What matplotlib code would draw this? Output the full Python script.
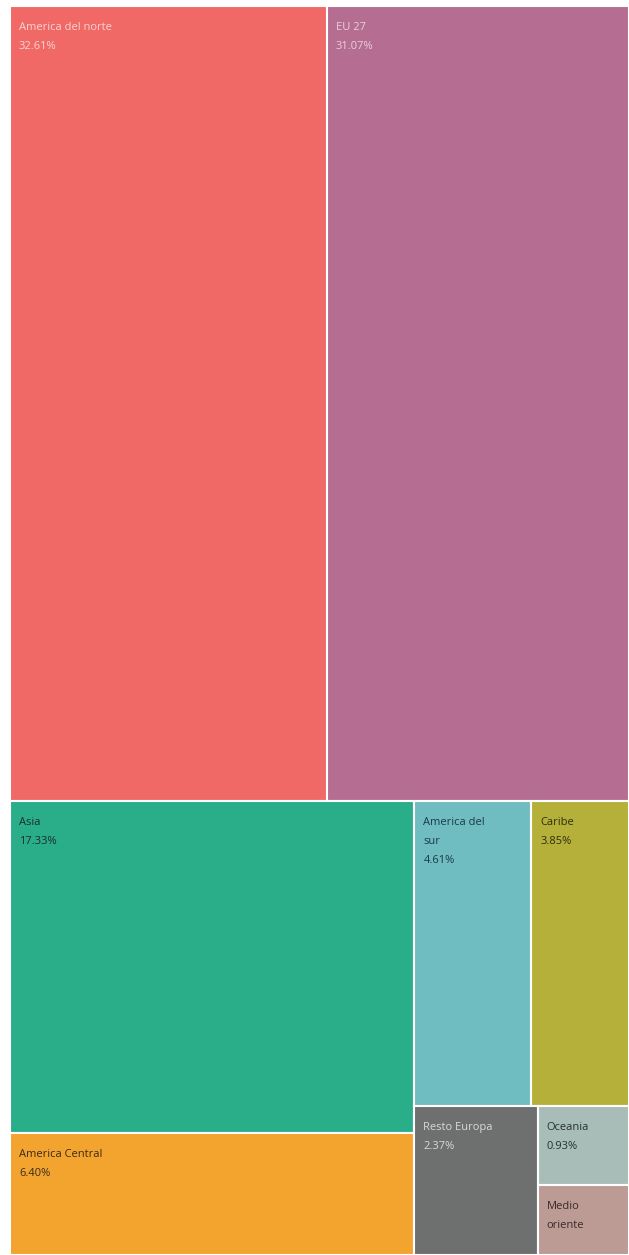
import matplotlib.pyplot as plt
from matplotlib.patches import Rectangle

# regiones y porcentajes
regiones = ["America del norte", "EU 27", "Asia", "America Central",
            "America del\nsur", "Caribe", "Resto Europa", "Oceania", "Medio\noriente"]
valores = [32.61, 31.07, 17.33, 6.40, 4.61, 3.85, 2.37, 0.93, 0.83]
etiquetas = ["32.61%", "31.07%", "17.33%", "6.40%", "4.61%", "3.85%", "2.37%", "0.93%", ""]
colores = ["#F06966", "#B56D91", "#2AAE8A", "#F3A42E", "#6FBCC1",
           "#B5B03A", "#6E6F6F", "#A9BDB8", "#BC9B95"]
color_texto = ["#F9D4D2", "#E9CFDC", "#1E2B2A", "#3A2A1A", "#1E3A44",
               "#2E2E10", "#D9D9D9", "#253030", "#3A2A28"]

# estructura del treemap: (orientacion, hijos); hoja = indice
arbol = ("v", [("h", [0, 1]),
               ("h", [("v", [2, 3]),
                      ("v", [("h", [4, 5]),
                             ("h", [6, ("v", [7, 8])])])])])


def total(nodo):
    if isinstance(nodo, int):
        return valores[nodo]
    return sum(total(h) for h in nodo[1])


def dividir(nodo, x, y, w, h, out):
    # y crece hacia abajo
    if isinstance(nodo, int):
        out[nodo] = (x, y, w, h)
        return
    orient, hijos = nodo
    t = total(nodo)
    pos = 0
    for hijo in hijos:
        f = total(hijo) / t
        if orient == "h":
            dividir(hijo, x + pos * w, y, w * f, h, out)
        else:
            dividir(hijo, x, y + pos * h, w, h * f, out)
        pos += f


rects = {}
dividir(arbol, 0, 0, 1, 1, rects)

fig = plt.figure(figsize=(6.29, 12.55), dpi=100)
ax = fig.add_axes([10 / 629, 0, 619 / 629, 1249 / 1255])
ax.set_xlim(0, 1)
ax.set_ylim(1, 0)
ax.axis("off")

W, H = 619, 1249
for i, nombre in enumerate(regiones):
    x, y, w, h = rects[i]
    ax.add_patch(Rectangle((x, y), w, h, facecolor=colores[i],
                           edgecolor="white", linewidth=1.5))
    texto = nombre if not etiquetas[i] else nombre + "\n" + etiquetas[i]
    ax.text(x + 9 / W, y + 16 / H, texto, fontsize=8, color=color_texto[i],
            va="top", ha="left", linespacing=2.0, family="Open Sans")

fig.savefig("out.png", dpi=100, facecolor="white")
